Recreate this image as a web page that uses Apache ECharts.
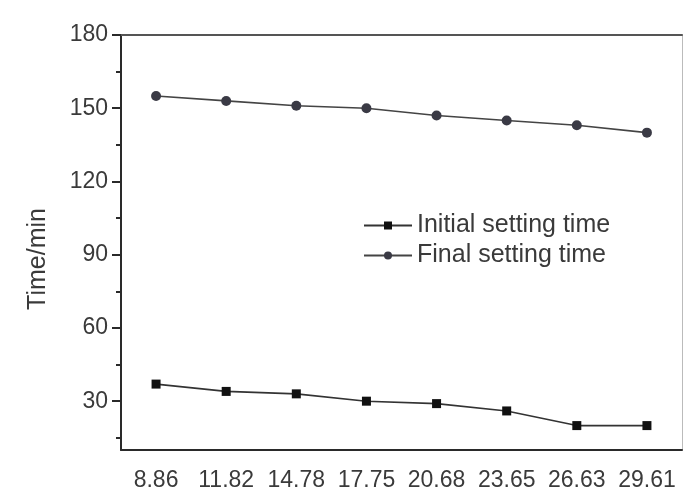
<!DOCTYPE html>
<html><head><meta charset="utf-8">
<script src="https://cdn.jsdelivr.net/npm/echarts@6/dist/echarts.min.js"></script>
<style>html,body{margin:0;padding:0;background:#fff}#c{width:683px;height:492px}</style>
</head><body><div id="c"></div>
<script>
const categories = ['8.86','11.82','14.78','17.75','20.68','23.65','26.63','29.61'];
const initialSetting = [37, 34, 33, 30, 29, 26, 20, 20];
const finalSetting = [155, 153, 151, 150, 147, 145, 143, 140];
const yMajorTicks = [30, 60, 90, 120, 150, 180];
const yMinorTicks = [15, 45, 75, 105, 135, 165];
const yMin = 10, yMax = 180;
const FONT = 'Liberation Sans, Arial, sans-serif';

const chart = echarts.init(document.getElementById('c'));
chart.setOption({
  backgroundColor: '#ffffff',
  animation: false,
  grid: {left: 121, right: 1, top: 35, bottom: 42},
  legend: {
    orient: 'vertical', left: 358, top: 208, itemGap: 5,
    itemWidth: 48, itemHeight: 10,
    textStyle: {fontSize: 25, color: '#3a3a3a', fontFamily: FONT},
    data: ['Initial setting time', 'Final setting time']
  },
  graphic: [{
    type: 'text', x: 38, y: 259, rotation: Math.PI / 2,
    style: {text: 'Time/min', fontSize: 25, fontFamily: FONT, fill: '#3a3a3a', textAlign: 'center', textVerticalAlign: 'middle'}
  }],
  xAxis: [
    {type: 'category', data: categories, boundaryGap: true, position: 'bottom',
     axisLine: {lineStyle: {color: '#2a2a2a', width: 2}},
     axisTick: {alignWithLabel: true, length: 8, lineStyle: {color: '#2a2a2a', width: 2}},
     axisLabel: {fontSize: 23, color: '#3a3a3a', fontFamily: FONT, margin: 19, interval: 0},
     splitLine: {show: false}},
    {type: 'category', data: categories, boundaryGap: true, position: 'bottom',
     axisLine: {show: false},
     axisTick: {length: 4, lineStyle: {color: '#2a2a2a', width: 2}},
     axisLabel: {show: false}, splitLine: {show: false}},
    {type: 'category', data: categories, position: 'top',
     axisLine: {lineStyle: {color: '#555', width: 2}},
     axisTick: {show: false}, axisLabel: {show: false}, splitLine: {show: false}}
  ],
  yAxis: [
    {type: 'value', min: yMin, max: yMax, position: 'left',
     axisLine: {show: true, lineStyle: {color: '#2a2a2a', width: 2}},
     axisTick: {show: true, length: 9, customValues: yMajorTicks, lineStyle: {color: '#2a2a2a', width: 2}},
     axisLabel: {customValues: yMajorTicks, fontSize: 23, color: '#3a3a3a', fontFamily: FONT, margin: 13},
     splitLine: {show: false}},
    {type: 'value', min: yMin, max: yMax, position: 'left',
     axisLine: {show: false},
     axisTick: {show: true, length: 5, customValues: yMinorTicks, lineStyle: {color: '#2a2a2a', width: 2}},
     axisLabel: {show: false}, splitLine: {show: false}},
    {type: 'value', min: yMin, max: yMax, position: 'right',
     axisLine: {show: true, lineStyle: {color: '#bbb', width: 1}},
     axisTick: {show: false}, axisLabel: {show: false}, splitLine: {show: false}}
  ],
  series: [
    {name: 'Initial setting time', type: 'line', data: initialSetting,
     xAxisIndex: 0, yAxisIndex: 0,
     symbol: 'rect', symbolSize: 9,
     itemStyle: {color: '#111'},
     lineStyle: {color: '#333', width: 1.6}},
    {name: 'Final setting time', type: 'line', data: finalSetting,
     xAxisIndex: 0, yAxisIndex: 0,
     symbol: 'circle', symbolSize: 10,
     itemStyle: {color: '#3a3a45'},
     lineStyle: {color: '#444', width: 1.6}}
  ]
});
</script></body></html>
